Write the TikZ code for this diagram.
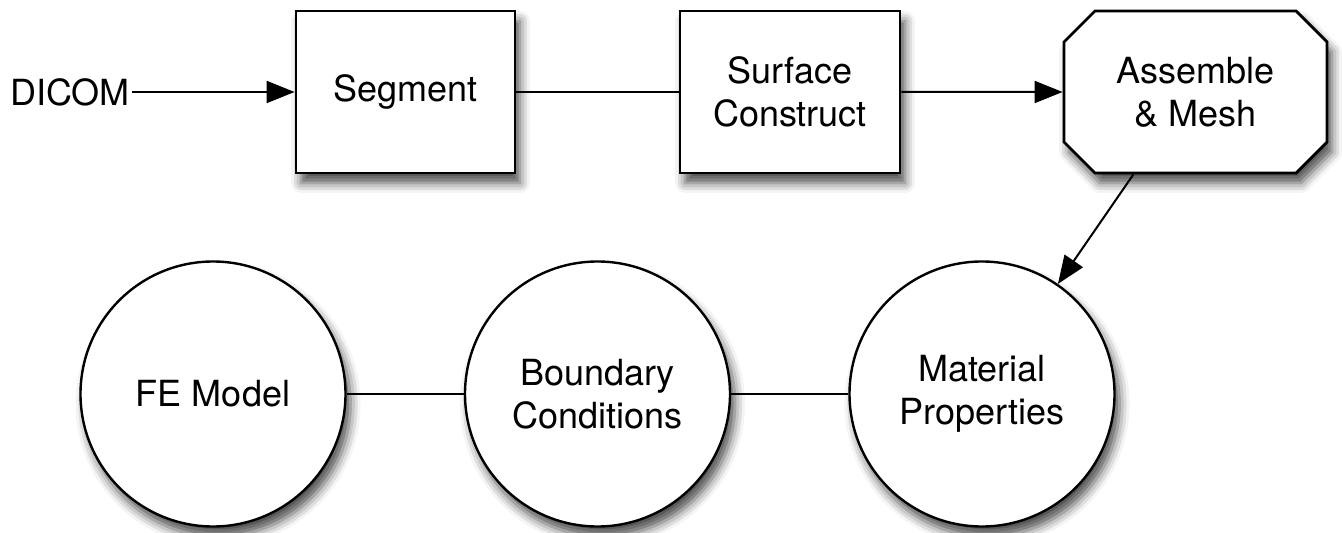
\documentclass[tikz,border=0pt]{standalone}
\usepackage{fontspec}
\setmainfont{TeX Gyre Heros}
\usepackage{tikz}
\usetikzlibrary{shapes.misc}
\usetikzlibrary{arrows.meta}
\usetikzlibrary{shadows.blur}

\begin{document}
\begin{tikzpicture}[x=0.5pt,y=-0.5pt,
font=\fontsize{18pt}{21.5pt}\selectfont,
shade/.style={blur shadow={shadow xshift=2.5pt,shadow yshift=-5pt,shadow blur radius=5pt,shadow opacity=70}},
stage/.style={draw,line width=1.4pt,fill=white,align=center,inner sep=0pt,minimum height=81pt,shade},
octo/.style={stage,chamfered rectangle,chamfered rectangle xsep=12pt},
disc/.style={draw,circle,line width=1.2pt,fill=white,align=center,inner sep=0pt,minimum size=132.5pt,shade},
flow/.style={-{Triangle[length=14pt,width=11pt]},line width=1pt},
link/.style={line width=1pt}]
\useasboundingbox (0,0) rectangle (1342,533);
\draw 
(70,92) node[inner sep=1pt](dicom){DICOM}
(405.5,92) node[stage,minimum width=109.5pt](seg){Segment}
(790,92) node[stage,minimum width=110pt](surf){Surface\\Construct}
(1195.5,92) node[octo,minimum width=131.5pt](asm){Assemble\\\& Mesh}
(213,394) node[disc](fem){FE Model}
(597.5,394) node[disc](bcs){Boundary\\Conditions}
(982,394) node[disc](mat){Material\\Properties}
;
\foreach \x/\y in {dicom/seg, surf/asm, asm.233.6/mat}{
\draw[flow](\x)--(\y);
}
\foreach \x/\y in {seg/surf, fem/bcs, bcs/mat}{
\draw[link](\x)--(\y);
}
\end{tikzpicture}
\end{document}
